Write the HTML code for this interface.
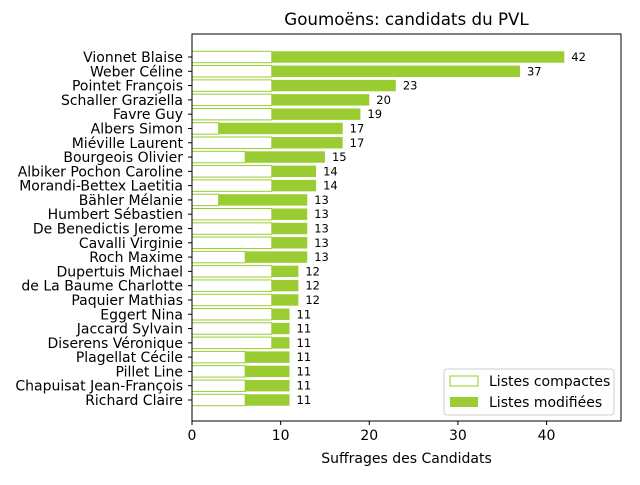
<!DOCTYPE html>
<html><head><meta charset="utf-8"><style>
body{margin:0;background:#fff;font-family:"Liberation Sans","DejaVu Sans",sans-serif}
svg text{font-family:"DejaVu Sans","Liberation Sans",sans-serif}
</style></head><body>
<svg id="chart" width="640" height="480"></svg>
<script>
const names=["Vionnet Blaise","Weber Céline","Pointet François","Schaller Graziella","Favre Guy","Albers Simon","Miéville Laurent","Bourgeois Olivier","Albiker Pochon Caroline","Morandi-Bettex Laetitia","Bähler Mélanie","Humbert Sébastien","De Benedictis Jerome","Cavalli Virginie","Roch Maxime","Dupertuis Michael","de La Baume Charlotte","Paquier Mathias","Eggert Nina","Jaccard Sylvain","Diserens Véronique","Plagellat Cécile","Pillet Line","Chapuisat Jean-François","Richard Claire"];
const compact=[9,9,9,9,9,3,9,6,9,9,3,9,9,9,6,9,9,9,9,9,9,6,6,6,6];
const totals=[42,37,23,20,19,17,17,15,14,14,13,13,13,13,13,12,12,12,11,11,11,11,11,11,11];
const xTicks=[0,10,20,30,40];
</script>
<script>
const svg=document.getElementById('chart');const NS='http://www.w3.org/2000/svg';
const L=192,R=621,T=34,B=421,XMAX=48.4;
const n=names.length;
const x=v=>L+v/XMAX*(R-L);
const Y0=57,Y1=400;
const step=(Y1-Y0)/(n-1);
const y=i=>Y0+i*step;
function el(t,a,p){const e=document.createElementNS(NS,t);for(const k in a)e.setAttribute(k,a[k]);(p||svg).appendChild(e);return e;}
const bh=step*0.8;
for(let i=0;i<n;i++){
  const cy=y(i);
  const w=el('rect',{x:x(0),y:cy-bh/2,width:x(compact[i])-x(0),height:bh,fill:'#fff',stroke:'#9acd32','stroke-width':1});
  
  
  const g=el('rect',{x:x(compact[i]),y:cy-bh/2,width:x(totals[i])-x(compact[i]),height:bh,fill:'#9acd32'});
  
  
  const vl=el('text',{x:x(totals[i])+7,y:cy+4,'font-size':'11.5',fill:'#000'});vl.textContent=totals[i];
  
  
  el('line',{x1:L-4,x2:L,y1:cy,y2:cy,stroke:'#000'});
  const tl=el('text',{x:L-9,y:cy+5,'font-size':'14','text-anchor':'end'});tl.textContent=names[i];
  
  
}
const ax=el('rect',{x:L,y:T,width:R-L,height:B-T,fill:'none',stroke:'#000','stroke-width':1});


for(const t of xTicks){
  el('line',{x1:x(t),x2:x(t),y1:B,y2:B+4,stroke:'#000'});
  const tx=el('text',{x:x(t),y:B+19,'font-size':'14','text-anchor':'middle'});tx.textContent=t;
  
  
}
const xt=el('text',{x:(L+R)/2,y:463,'font-size':'14','text-anchor':'middle'});xt.textContent='Suffrages des Candidats';


const ti=el('text',{x:(L+R)/2,y:25,'font-size':'16.7','text-anchor':'middle'});ti.textContent='Goumoëns: candidats du PVL';


const lg=el('g',{});


el('rect',{x:444,y:369,width:170,height:46,rx:3,fill:'#fff','fill-opacity':0.8,stroke:'#ccc'},lg);
el('rect',{x:450,y:376,width:28,height:10,fill:'#fff',stroke:'#9acd32'},lg);
const l1=el('text',{x:489,y:386,'font-size':'14'},lg);l1.textContent='Listes compactes';
el('rect',{x:450,y:397,width:28,height:10,fill:'#9acd32'},lg);
const l2=el('text',{x:489,y:407,'font-size':'14'},lg);l2.textContent='Listes modifiées';
</script>
</body></html>
